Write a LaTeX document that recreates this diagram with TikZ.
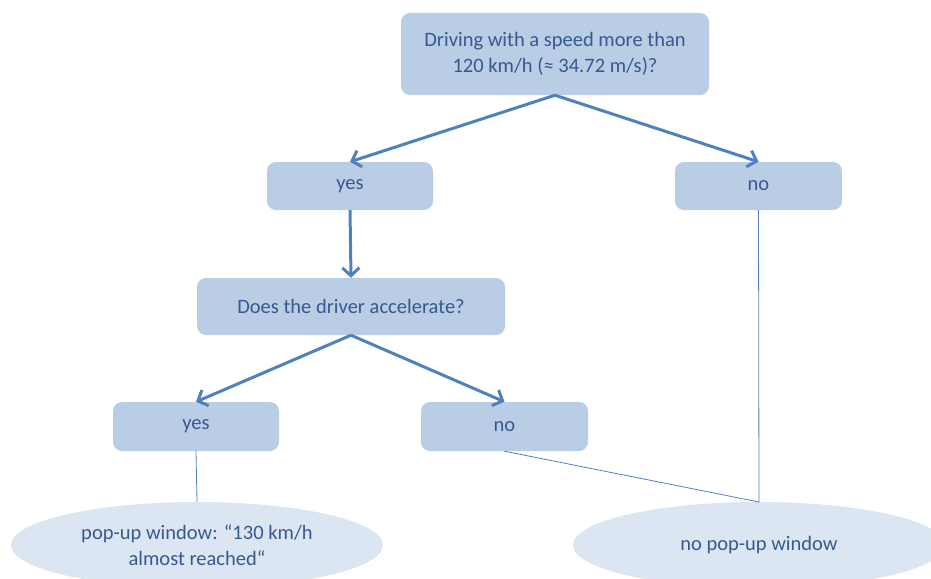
\documentclass[tikz,border=0pt]{standalone}
\usepackage{fontspec}
\setmainfont{Carlito}
\usetikzlibrary{arrows.meta,shapes.geometric}
\definecolor{boxfill}{HTML}{B9CDE5}
\definecolor{ellfill}{HTML}{DCE6F2}
\definecolor{arrowc}{HTML}{4F81BD}
\definecolor{txtc}{HTML}{37598F}
\tikzset{
  box/.style={rectangle, rounded corners=9pt, fill=boxfill, draw=none, text=txtc, align=center, inner sep=0pt, font=\fontsize{20.5}{26}\selectfont},
  oval/.style={ellipse, fill=ellfill, draw=none, text=txtc, align=center, inner sep=0pt, minimum width=372pt, minimum height=86pt, font=\fontsize{20.5}{26}\selectfont},
  bigarrow/.style={draw=arrowc, line width=3pt, line join=round, -{Straight Barb[length=8pt,width=17pt,line width=3pt]}},
  thinline/.style={draw=arrowc, line width=0.8pt}
}
\begin{document}
\begin{tikzpicture}[x=1pt,y=-1pt]
\useasboundingbox (0,0) rectangle (931,578);
\clip (0,0) rectangle (931,578);
\node[box, minimum width=308pt, minimum height=82pt] (q1) at (555,54) {Driving with a speed more than\\120 km/h (≈ 34.72 m/s)?};
\node[box, minimum width=166pt, minimum height=48pt] (yes1) at (350,186) {yes};
\node[box, minimum width=167pt, minimum height=48pt] (no1) at (758.5,186) {no};
\node[box, minimum width=308pt, minimum height=57pt] (q2) at (351,306.5) {Does the driver accelerate?};
\node[box, minimum width=166pt, minimum height=49pt] (yes2) at (196,426.5) {yes};
\node[box, minimum width=167pt, minimum height=49pt] (no2) at (504.5,426.5) {no};
\node[oval] (pop) at (197,545) {pop-up window: “130 km/h\\almost reached“};
\node[oval] (nopop) at (759,545) {no pop-up window};
\coordinate (nopoptop) at (759,502);
\draw[bigarrow] (q1.south) -- (yes1.north);
\draw[bigarrow] (q1.south) -- (no1.north);
\draw[bigarrow] (yes1.south) -- (q2.north);
\draw[bigarrow] (q2.south) -- (yes2.north);
\draw[bigarrow] (q2.south) -- (no2.north);
\draw[thinline] (yes2.south) -- (pop.north);
\draw[thinline] (no1.south) -- (nopoptop);
\draw[thinline] (no2.south) -- (nopoptop);
\end{tikzpicture}
\end{document}
